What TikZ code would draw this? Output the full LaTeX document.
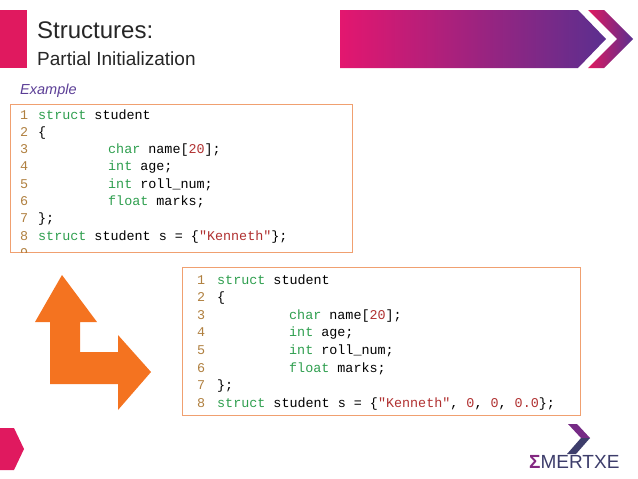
\documentclass[tikz,border=0pt]{standalone}
\usepackage{fontspec}
\setmainfont{Liberation Sans}
\setmonofont{Liberation Mono}
\usetikzlibrary{shapes}
\definecolor{pinkbar}{HTML}{E0195F}
\definecolor{purplebar}{HTML}{5B2F8F}
\definecolor{exmpl}{HTML}{5B3E96}
\definecolor{boxline}{HTML}{F0A070}
\definecolor{kwgreen}{HTML}{2E9E4E}
\definecolor{litred}{HTML}{B03030}
\definecolor{numtan}{HTML}{B08040}
\definecolor{arroworange}{HTML}{F47320}
\definecolor{logoblue}{HTML}{3D3D6B}
\newcommand{\kw}[1]{\textcolor{kwgreen}{#1}}
\newcommand{\lit}[1]{\textcolor{litred}{#1}}
\tikzset{
  codeline/.style={anchor=base west, inner sep=0pt, font=\ttfamily\fontsize{13.4}{15}\selectfont},
  lineno/.style={codeline, text=numtan},
  codebox/.style={draw=boxline, line width=1pt}
}
\begin{document}
\begin{tikzpicture}[x=1pt,y=-1pt]
\useasboundingbox (0,0) rectangle (638,479);
%%% header %%%
\fill[pinkbar] (0,10) rectangle (27,68);
\node[anchor=base west, inner sep=0pt, text=black!85, font=\fontsize{24}{26}\selectfont] (title) at (37,38) {Structures:};
\node[anchor=base west, inner sep=0pt, text=black!85, font=\fontsize{19}{21}\selectfont] (subtitle) at (37,65) {Partial Initialization};
\shade[left color=pinkbar!90!magenta, right color=purplebar] (340,10) -- (578,10) -- (606,39) -- (578,68) -- (340,68) -- cycle;
\shade[left color=pinkbar, right color=purplebar] (588,10) -- (604,10) -- (633,39) -- (604,68) -- (588,68) -- (617,39) -- cycle;
\node[anchor=base west, inner sep=0pt, text=exmpl, font=\itshape\fontsize{14.5}{16}\selectfont] (example) at (20,94) {Example};
%%% first listing %%%
\draw[codebox] (10,104) rectangle (352,252);
\foreach \n in {1,...,9}
  \node[lineno] (la\n) at (20,{119+17.3*(\n-1)}) {\n};
\node[codeline] (a1) at (38,119) {\kw{struct} student};
\node[codeline] (a2) at (38,136.3) {\{};
\node[codeline] (a3) at (108,153.6) {\kw{char} name[\lit{20}];};
\node[codeline] (a4) at (108,170.9) {\kw{int} age;};
\node[codeline] (a5) at (108,188.2) {\kw{int} roll\_num;};
\node[codeline] (a6) at (108,205.5) {\kw{float} marks;};
\node[codeline] (a7) at (38,222.8) {\};};
\node[codeline] (a8) at (38,240.1) {\kw{struct} student s = \{\lit{"Kenneth"}\};};
%%% second listing %%%
\fill[white] (10,253) rectangle (353,262);
\draw[codebox] (182,267) rectangle (580,415);
\foreach \n in {1,...,8}
  \node[lineno] (lb\n) at (197,{284+17.6*(\n-1)}) {\n};
\node[codeline] (b1) at (217,284) {\kw{struct} student};
\node[codeline] (b2) at (217,301.6) {\{};
\node[codeline] (b3) at (289,319.2) {\kw{char} name[\lit{20}];};
\node[codeline] (b4) at (289,336.8) {\kw{int} age;};
\node[codeline] (b5) at (289,354.4) {\kw{int} roll\_num;};
\node[codeline] (b6) at (289,372) {\kw{float} marks;};
\node[codeline] (b7) at (217,389.6) {\};};
\node[codeline] (b8) at (217,407.2) {\kw{struct} student s = \{\lit{"Kenneth"}, \lit{0}, \lit{0}, \lit{0.0}\};};
%%% turn arrow %%%
\fill[arroworange] (62,275) -- (97,322) -- (80,322) -- (80,352) -- (118,352) -- (118,335)
  -- (151,372) -- (118,410) -- (118,384) -- (50,384) -- (50,322) -- (35,322) -- cycle;
%%% footer %%%
\fill[pinkbar] (0,428) -- (14,428) -- (24,449) -- (14,470) -- (0,470) -- cycle;
\fill[purplebar!80!pinkbar] (568,424) -- (577,424) -- (590,438) -- (581,438) -- cycle;
\fill[logoblue] (581,438) -- (590,438) -- (576,454) -- (567,454) -- cycle;
\node[anchor=base west, inner sep=0pt, font=\fontsize{19}{21}\selectfont] (logo) at (529,468)
  {\textcolor{purplebar!70!pinkbar}{\bfseries Σ}\textcolor{logoblue}{MERTXE}};
\end{tikzpicture}
\end{document}
